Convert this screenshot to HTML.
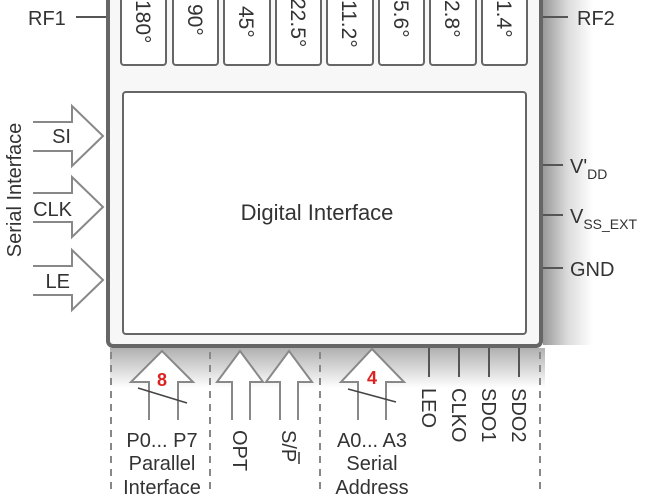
<!DOCTYPE html>
<html><head><meta charset="utf-8"><style>
html,body{margin:0;padding:0;background:#fff;}
svg{display:block;}
text{font-family:"Liberation Sans",sans-serif;fill:#333;}
</style></head><body>
<svg width="654" height="494" viewBox="0 0 654 494" xmlns="http://www.w3.org/2000/svg">
<defs>
<linearGradient id="sr" x1="0" x2="1" y1="0" y2="0">
<stop offset="0" stop-color="#999"/><stop offset="0.5" stop-color="#dcdcdc"/><stop offset="1" stop-color="#fff"/></linearGradient>
<linearGradient id="sb" x1="0" x2="0" y1="0" y2="1">
<stop offset="0" stop-color="#b0b0b0"/><stop offset="1" stop-color="#fff"/></linearGradient>
</defs>
<rect x="543" y="0" width="50" height="345" fill="url(#sr)"/>
<rect x="110" y="348" width="435" height="40" fill="url(#sb)"/>
<rect x="108" y="-10" width="433" height="356" rx="5" fill="#f7f7f7" stroke="#666" stroke-width="4"/>
<g fill="#fff" stroke="#666" stroke-width="2">
<rect x="121" y="-6" width="45" height="71" rx="3"/>
<rect x="173" y="-6" width="45" height="71" rx="3"/>
<rect x="224" y="-6" width="46" height="71" rx="3"/>
<rect x="276" y="-6" width="45" height="71" rx="3"/>
<rect x="327" y="-6" width="46" height="71" rx="3"/>
<rect x="379" y="-6" width="45" height="71" rx="3"/>
<rect x="430" y="-6" width="46" height="71" rx="3"/>
<rect x="482" y="-6" width="45" height="71" rx="3"/>
</g>
<g font-size="21">
<text transform="translate(136,0) rotate(90)">180°</text>
<text transform="translate(188,4) rotate(90)">90°</text>
<text transform="translate(239,6) rotate(90)">45°</text>
<text transform="translate(291,-2) rotate(90)">22.5°</text>
<text transform="translate(342,0) rotate(90)">11.2°</text>
<text transform="translate(394,0) rotate(90)">5.6°</text>
<text transform="translate(445,0) rotate(90)">2.8°</text>
<text transform="translate(497,0) rotate(90)">1.4°</text>
</g>
<rect x="123" y="92" width="403" height="242" rx="3" fill="#fff" stroke="#666" stroke-width="2"/>
<text x="317" y="220" font-size="22" text-anchor="middle">Digital Interface</text>
<g stroke="#555" stroke-width="2">
<line x1="76" y1="17" x2="106" y2="17"/>
<line x1="543" y1="17" x2="568" y2="17"/>
<line x1="543" y1="165" x2="563" y2="165"/>
<line x1="543" y1="215" x2="563" y2="215"/>
<line x1="543" y1="268" x2="563" y2="268"/>
</g>
<text x="28" y="25" font-size="20">RF1</text>
<text x="577" y="25" font-size="20">RF2</text>
<text x="570" y="173" font-size="20">V'<tspan font-size="14" dy="6">DD</tspan></text>
<text x="570" y="223" font-size="20">V<tspan font-size="14" dy="6">SS_EXT</tspan></text>
<text x="570" y="276" font-size="20">GND</text>
<g fill="#fff" stroke="#888" stroke-width="2">
<path d="M33 122 H72 V106 L103 136 L72 166 V151 H33"/>
<path d="M33 193 H72 V177 L103 207 L72 237 V222 H33"/>
<path d="M33 266 H72 V250 L103 280 L72 310 V295 H33"/>
</g>
<text x="71" y="143" font-size="20" text-anchor="end">SI</text>
<text x="72" y="216" font-size="20" text-anchor="end">CLK</text>
<text x="70" y="288" font-size="20" text-anchor="end">LE</text>
<text transform="translate(21,190) rotate(-90)" font-size="20" text-anchor="middle">Serial Interface</text>
<g stroke="#888" stroke-width="2" stroke-dasharray="7,6">
<line x1="111" y1="352" x2="111" y2="494"/>
<line x1="210" y1="352" x2="210" y2="494"/>
<line x1="320" y1="352" x2="320" y2="494"/>
<line x1="540" y1="352" x2="540" y2="494"/>
</g>
<g fill="#fff" stroke="#888" stroke-width="2">
<path d="M149 420 V382 H131 L162 351 L193 382 H178 V420"/>
<path d="M232 420 V382 H217 L240 351 L263 382 H250 V420"/>
<path d="M280 420 V382 H266 L289 351 L312 382 H298 V420"/>
<path d="M358 420 V382 H341 L372 349 L404 382 H386 V420"/>
</g>
<g stroke="#444" stroke-width="1.5">
<line x1="138" y1="388" x2="187" y2="403"/>
<line x1="348" y1="389" x2="396" y2="402"/>
</g>
<text x="162" y="386" font-size="18" font-weight="bold" style="fill:#d22" text-anchor="middle">8</text>
<text x="372" y="384" font-size="18" font-weight="bold" style="fill:#d22" text-anchor="middle">4</text>
<g stroke="#555" stroke-width="2">
<line x1="429" y1="348" x2="429" y2="377"/>
<line x1="459" y1="348" x2="459" y2="377"/>
<line x1="489" y1="348" x2="489" y2="377"/>
<line x1="519" y1="348" x2="519" y2="377"/>
</g>
<g font-size="20">
<text transform="translate(422,388) rotate(90)">LEO</text>
<text transform="translate(452,388) rotate(90)">CLKO</text>
<text transform="translate(482,388) rotate(90)">SDO1</text>
<text transform="translate(512,388) rotate(90)">SDO2</text>
<text transform="translate(233,430) rotate(90)">OPT</text>
<text transform="translate(282,430) rotate(90)">S/P</text>
</g>
<line x1="299" y1="452" x2="299" y2="464" stroke="#333" stroke-width="1.5"/>
<g font-size="20" text-anchor="middle">
<text x="162" y="447">P0... P7</text>
<text x="162" y="470">Parallel</text>
<text x="162" y="494">Interface</text>
<text x="372" y="447">A0... A3</text>
<text x="372" y="470">Serial</text>
<text x="372" y="494">Address</text>
</g>
</svg>
</body></html>
